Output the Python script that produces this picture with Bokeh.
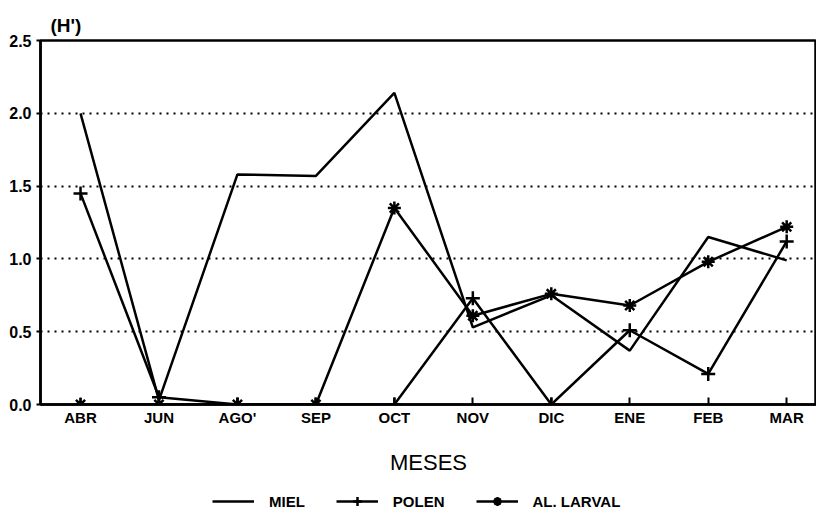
from bokeh.plotting import figure
from bokeh.layouts import column
from bokeh.models import Range1d, FixedTicker, Legend, LegendItem
from bokeh.embed import file_html
from bokeh.resources import INLINE

months = ["ABR", "JUN", "AGO'", "SEP", "OCT", "NOV", "DIC", "ENE", "FEB", "MAR"]
miel = [2.00, 0.03, 1.58, 1.57, 2.14, 0.53, 0.75, 0.37, 1.15, 0.99]
polen = [1.45, 0.05, 0.00, 0.00, 0.00, 0.73, 0.00, 0.51, 0.21, 1.12]
larval = [0.00, 0.00, 0.00, 0.00, 1.35, 0.61, 0.76, 0.68, 0.98, 1.22]
y_ticks = [0.0, 0.5, 1.0, 1.5, 2.0, 2.5]
y_tick_labels = ["0.0", "0.5", "1.0", "1.5", "2.0", "2.5"]
series_names = ["MIEL", "POLEN", "AL. LARVAL"]

xs = list(range(len(months)))

FONT = "Liberation Sans"

p = figure(frame_width=776, frame_height=364, output_backend="svg", toolbar_location=None,
           x_range=Range1d(-0.51, 9.38), y_range=Range1d(0, 2.5),
           min_border_left=40, min_border_right=0, min_border_top=40,
           min_border_bottom=80, title="(H')")

p.title.text_font = FONT
p.title.text_font_size = "19px"
p.title.text_font_style = "bold"
p.title.text_color = "black"
p.title.align = "left"
p.title.offset = 10
p.title.standoff = 10

p.outline_line_color = "black"
p.outline_line_width = 2.5
p.background_fill_color = "white"
p.border_fill_color = "white"

p.xgrid.grid_line_color = None
p.ygrid.grid_line_color = "black"
p.ygrid.grid_line_width = 2
p.ygrid.grid_line_dash = "2 5"
p.ygrid.ticker = FixedTicker(ticks=y_ticks[1:-1])

p.xaxis.ticker = FixedTicker(ticks=xs)
p.xaxis.major_label_overrides = {i: m for i, m in zip(xs, months)}
p.xaxis.minor_tick_line_color = None
p.xaxis.major_tick_in = 7
p.xaxis.major_tick_out = 0
p.xaxis.major_tick_line_width = 2
p.xaxis.axis_line_width = 2.5
p.xaxis.major_label_text_font = FONT
p.xaxis.major_label_text_font_style = "bold"
p.xaxis.major_label_text_font_size = "15px"
p.xaxis.major_label_text_color = "black"
p.xaxis.major_label_standoff = 4
p.xaxis.axis_label = "MESES"
p.xaxis.axis_label_text_font = FONT
p.xaxis.axis_label_text_font_style = "normal"
p.xaxis.axis_label_text_font_size = "22px"
p.xaxis.axis_label_text_color = "black"
p.xaxis.axis_label_standoff = 21

p.yaxis.ticker = FixedTicker(ticks=y_ticks)
p.yaxis.major_label_overrides = {t: l for t, l in zip(y_ticks, y_tick_labels)}
p.yaxis.minor_tick_line_color = None
p.yaxis.major_tick_in = 0
p.yaxis.major_tick_out = 4
p.yaxis.major_tick_line_width = 2
p.yaxis.axis_line_width = 2.5
p.yaxis.major_label_text_font = FONT
p.yaxis.major_label_text_font_style = "bold"
p.yaxis.major_label_text_font_size = "16px"
p.yaxis.major_label_text_color = "black"
p.yaxis.major_label_standoff = 5

lw = 2.5


def draw(fig):
    r1 = fig.line(xs, miel, line_color="black", line_width=lw)
    r2 = fig.line(xs, polen, line_color="black", line_width=lw)
    r2m = fig.scatter(xs, polen, marker="cross", size=14, line_color="black", line_width=2.5)
    r3 = fig.line(xs, larval, line_color="black", line_width=lw)
    r3m = fig.scatter(xs, larval, marker="asterisk", size=13, line_color="black", line_width=2.5)
    return [[r1], [r2, r2m], [r3, r3m]]


draw(p)

# legend strip below the chart (its glyph renderers lie outside its visible range)
lf = figure(frame_width=816, frame_height=28, output_backend="svg", toolbar_location=None,
            x_range=Range1d(100, 101), y_range=Range1d(100, 101),
            x_axis_type=None, y_axis_type=None,
            min_border_left=0, min_border_right=0, min_border_top=0, min_border_bottom=0)
lf.outline_line_color = None
lf.grid.grid_line_color = None
lf.background_fill_color = "white"
lf.border_fill_color = "white"
rs = draw(lf)

legend = Legend(items=[LegendItem(label=n, renderers=r) for n, r in zip(series_names, rs)],
                orientation="horizontal", location=(212, 0))
legend.border_line_color = None
legend.background_fill_alpha = 0
legend.label_text_font = FONT
legend.label_text_font_style = "bold"
legend.label_text_font_size = "15px"
legend.label_text_color = "black"
legend.glyph_width = 42
legend.glyph_height = 22
legend.label_standoff = 15
legend.spacing = 31
legend.margin = 0
legend.padding = 3
lf.add_layout(legend, "center")

layout = column(p, lf, spacing=0)
open("out.html", "w").write(file_html(layout, INLINE))
